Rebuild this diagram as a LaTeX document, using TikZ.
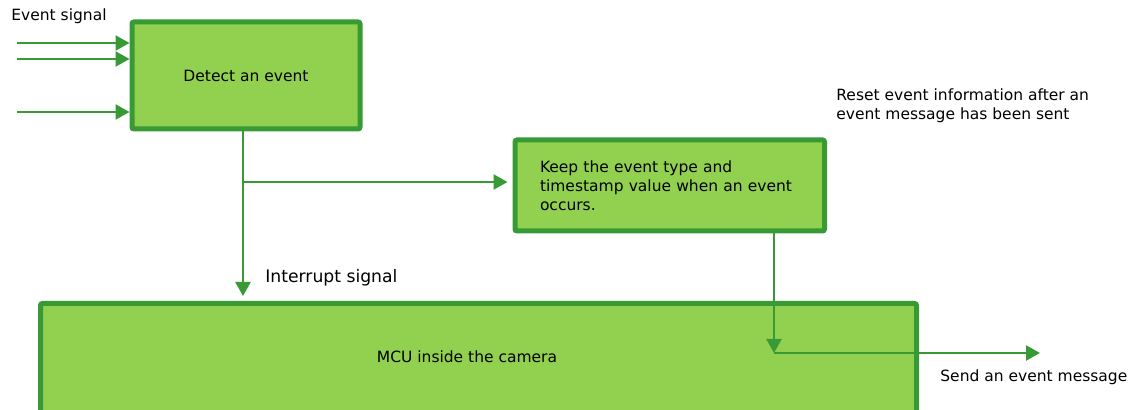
\documentclass[tikz,border=0pt]{standalone}
\usepackage{fontspec}
\setmainfont{DejaVu Sans}
\usepackage{tikz}
\usetikzlibrary{arrows.meta,positioning}
\usepackage{xcolor}
\definecolor{boxgreen}{RGB}{146,208,80}
\definecolor{edgegreen}{RGB}{56,154,52}

\tikzset{
  box/.style={draw=edgegreen,line width=2.5pt,fill=boxgreen,rounded corners=1pt,inner sep=0pt},
  flow/.style={draw=edgegreen,line width=1.2pt,-{Triangle[length=7pt,width=7.5pt]}},
  lbl/.style={font=\fontsize{7.75}{9.6}\selectfont,inner sep=0pt}
}

\begin{document}
\begin{tikzpicture}[x=0.5pt,y=-0.5pt]
        \useasboundingbox (0,0) rectangle (1131,410);
        \clip (0,0) rectangle (1131,410);
        % Boxes
        \node[box,lbl,minimum width=114pt,minimum height=53.5pt] (detect) at (246,75.5) {Detect an event};
        \node[box,lbl,align=left,text width=129.75pt,inner xsep=12.5pt,minimum height=45.5pt]
          (keep) at (669.75,185.5) {Keep the event type and\\timestamp value when an event\\occurs.};
        \node[box,minimum width=438pt,minimum height=63.25pt] (mcu) at (478.5,366.75) {};
        \node[lbl] (mcutext) at (467,357) {MCU inside the camera};
        % Free ends and bends
        \coordinate (in1) at (17,43);
        \coordinate (in2) at (17,59);
        \coordinate (in3) at (17,112);
        \coordinate (split) at (243,182);
        \coordinate (irq) at (243,296);
        \coordinate (turn) at (774,353);
        \coordinate (out) at (1040,353);
        % Connectors
        \foreach \p in {in1,in2,in3}
          \draw[flow] (\p) -- (\p -| detect.west);
        \draw[flow] (split |- detect.south) -- (irq);
        \draw[flow,shorten >=2.5pt] (split) -- (split -| keep.west);
        \draw[flow] (turn |- keep.south) -- (turn);
        \draw[flow] (turn) -- (out);
        % Labels
        \node[lbl,anchor=west] (evlabel) at (11,16) {Event signal};
        \node[lbl,anchor=west,font=\fontsize{8.6}{10}\selectfont] (irqlabel) at (265,278) {Interrupt signal};
        \node[lbl,anchor=west,align=left] (resetlabel) at (836,105.5) {Reset event information after an\\event message has been sent};
        \node[lbl,anchor=west] (sendlabel) at (940,377) {Send an event message};
      \end{tikzpicture}
\end{document}
